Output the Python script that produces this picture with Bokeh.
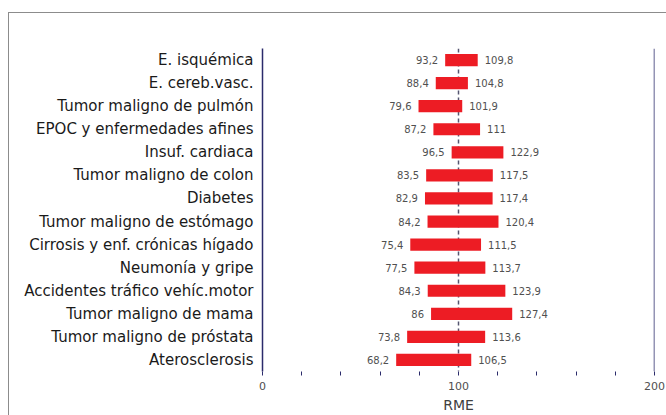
from bokeh.plotting import figure
from bokeh.models import (ColumnDataSource, Range1d, FactorRange, FixedTicker,
                          Span, LabelSet)
from bokeh.core.properties import value
from bokeh.embed import file_html
from bokeh.resources import INLINE

categories = [
    "E. isquémica",
    "E. cereb.vasc.",
    "Tumor maligno de pulmón",
    "EPOC y enfermedades afines",
    "Insuf. cardiaca",
    "Tumor maligno de colon",
    "Diabetes",
    "Tumor maligno de estómago",
    "Cirrosis y enf. crónicas hígado",
    "Neumonía y gripe",
    "Accidentes tráfico vehíc.motor",
    "Tumor maligno de mama",
    "Tumor maligno de próstata",
    "Aterosclerosis",
]
low = [93.2, 88.4, 79.6, 87.2, 96.5, 83.5, 82.9, 84.2, 75.4, 77.5, 84.3, 86, 73.8, 68.2]
high = [109.8, 104.8, 101.9, 111, 122.9, 117.5, 117.4, 120.4, 111.5, 113.7, 123.9, 127.4, 113.6, 106.5]
x_ticks = [0, 100, 200]
x_minor = [20, 40, 60, 80, 120, 140, 160, 180]


def fmt(v):
    s = ("%.1f" % v).rstrip("0").rstrip(".")
    return s.replace(".", ",")


src = ColumnDataSource(dict(
    cat=categories, low=low, high=high,
    low_t=[fmt(v) for v in low], high_t=[fmt(v) for v in high],
))

NAVY = "#2b2b6b"
FONT = "DejaVu Sans"

p = figure(
    y_range=FactorRange(*reversed(categories), range_padding=0),
    x_range=Range1d(0, 200),
    frame_width=392, frame_height=323,
    min_border_left=253, min_border_right=12,
    min_border_top=35, min_border_bottom=42,
    output_backend="svg", toolbar_location=None,
    background_fill_color="white", border_fill_color="white",
    styles={"margin-left": "8px", "margin-top": "12px",
            "border-left": "1px solid #8c8c8c", "border-top": "1px solid #8c8c8c"},
)
p.outline_line_color = None
p.xgrid.grid_line_color = None
p.ygrid.grid_line_color = None

# dashed reference line at 100
p.add_layout(Span(location=100, dimension="height", line_color="#555570",
                  line_dash="4 3", line_width=1.5, level="underlay"))
# right boundary line at 200
p.add_layout(Span(location=200, dimension="height", line_color=NAVY, line_width=1.5))

p.hbar(y="cat", left="low", right="high", height=0.53, source=src,
       fill_color="#ed1c24", line_color=None)

p.add_layout(LabelSet(x="low", y="cat", text="low_t", source=src, x_offset=-7,
                      text_align="right", text_baseline="middle",
                      text_font=value(FONT), text_font_size=value("10px"),
                      text_color="#505050"))
p.add_layout(LabelSet(x="high", y="cat", text="high_t", source=src, x_offset=7,
                      text_align="left", text_baseline="middle",
                      text_font=value(FONT), text_font_size=value("10px"),
                      text_color="#505050"))

# y axis
ya = p.yaxis[0]
ya.axis_line_color = NAVY
ya.axis_line_width = 1.5
ya.major_tick_line_color = None
ya.minor_tick_line_color = None
ya.major_label_text_font = FONT
ya.major_label_text_font_size = "15px"
ya.major_label_text_color = "#1a1a1a"
ya.major_label_standoff = 3

# x axis
xa = p.xaxis[0]
xa.ticker = FixedTicker(ticks=x_ticks, minor_ticks=x_minor)
xa.axis_line_color = None
xa.major_tick_line_color = NAVY
xa.minor_tick_line_color = NAVY
xa.major_tick_in = 0
xa.major_tick_out = 4
xa.minor_tick_in = 0
xa.minor_tick_out = 4
xa.major_label_text_font = FONT
xa.major_label_text_font_size = "11px"
xa.major_label_text_color = "#505050"
xa.major_label_standoff = 6
xa.axis_label = "RME"
xa.axis_label_text_font = FONT
xa.axis_label_text_font_style = "normal"
xa.axis_label_text_font_size = "14px"
xa.axis_label_text_color = "#404040"
xa.axis_label_standoff = 4

open("out.html", "w").write(file_html(p, INLINE))
